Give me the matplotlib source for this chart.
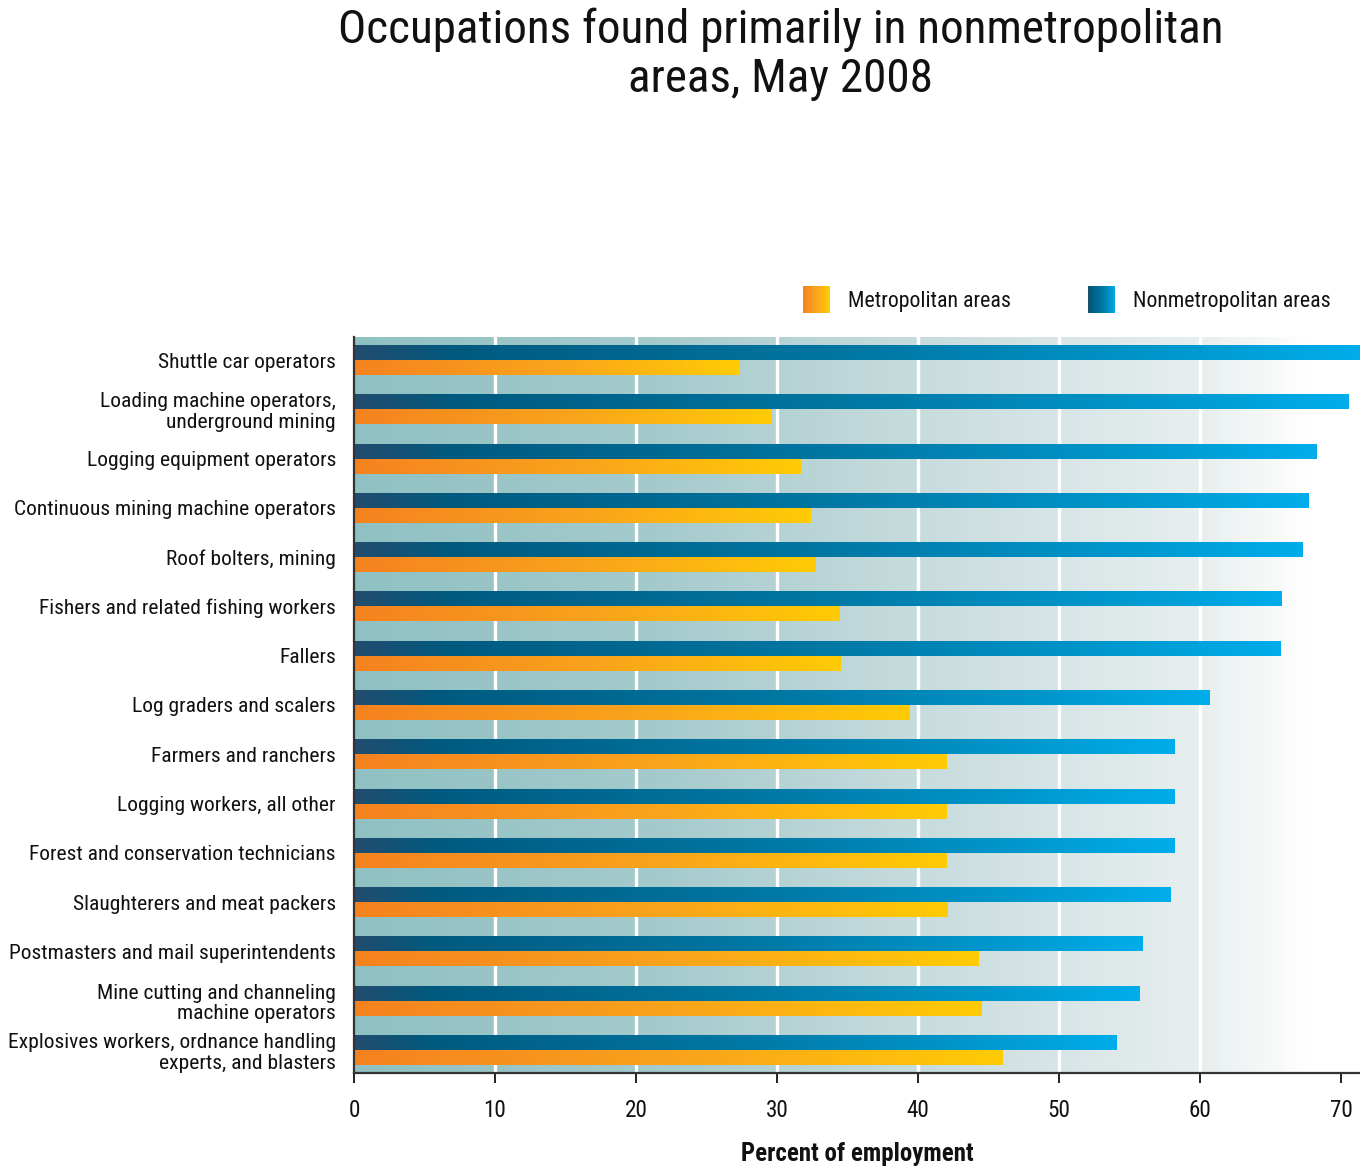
import os
import matplotlib
matplotlib.use("Agg")
import matplotlib.pyplot as plt
import numpy as np
from matplotlib.colors import LinearSegmentedColormap
from matplotlib.patches import Patch, Rectangle
from matplotlib.legend_handler import HandlerBase
from matplotlib import font_manager as fm
from matplotlib.font_manager import FontProperties

categories = [
    "Shuttle car operators",
    "Loading machine operators,\nunderground mining",
    "Logging equipment operators",
    "Continuous mining machine operators",
    "Roof bolters, mining",
    "Fishers and related fishing workers",
    "Fallers",
    "Log graders and scalers",
    "Farmers and ranchers",
    "Logging workers, all other",
    "Forest and conservation technicians",
    "Slaughterers and meat packers",
    "Postmasters and mail superintendents",
    "Mine cutting and channeling\nmachine operators",
    "Explosives workers, ordnance handling\nexperts, and blasters",
]
nonmetro = [71.3, 70.5, 68.3, 67.7, 67.3, 65.8, 65.7, 60.7, 58.2, 58.2, 58.2, 57.9, 55.9, 55.7, 54.1]
metro = [27.3, 29.6, 31.7, 32.4, 32.7, 34.4, 34.5, 39.4, 42.0, 42.0, 42.0, 42.1, 44.3, 44.5, 46.0]
xticks = [0, 10, 20, 30, 40, 50, 60, 70]
title = "Occupations found primarily in nonmetropolitan\nareas, May 2008"
xlabel = "Percent of employment"
legend_labels = ["Metropolitan areas", "Nonmetropolitan areas"]

TXT = "#111111"


def _wt(f):
    w = f.weight
    if isinstance(w, str):
        w = fm.weight_dict.get(w, 400)
    return w


def pick_font(bold):
    prefs = [("Liberation Sans Narrow", None), ("Roboto Condensed", None),
             ("Open Sans Condensed", None), ("DejaVu Sans", "Condensed"),
             ("Noto Sans", "Condensed"), ("Open Sans", "Condensed"),
             ("Roboto", "Condensed"), ("Liberation Sans", None), ("DejaVu Sans", None)]
    for name, key in prefs:
        for f in fm.fontManager.ttflist:
            base = os.path.basename(f.fname)
            if f.name != name:
                continue
            if key and key not in base:
                continue
            if any(k in base for k in ("Italic", "Oblique")) or f.style != "normal":
                continue
            if name in ("Liberation Sans", "DejaVu Sans") and key is None and \
                    ("Condensed" in base or "Narrow" in base):
                continue
            if (_wt(f) >= 600) == bold and "Light" not in base and "Black" not in base \
                    and "Semi" not in base and "Medium" not in base:
                return f.fname
    return None


reg_path = pick_font(False)
bold_path = pick_font(True) or reg_path
fp_reg = FontProperties(fname=reg_path) if reg_path else FontProperties(family="DejaVu Sans")
fp_bold = FontProperties(fname=bold_path) if bold_path else FontProperties(family="DejaVu Sans", weight="bold")

blue_cmap = LinearSegmentedColormap.from_list(
    "b", [(0, "#224c6e"), (0.1, "#015a7f"), (0.5, "#0077a4"), (0.8, "#0096cb"), (1.0, "#00adea")])
orange_cmap = LinearSegmentedColormap.from_list(
    "o", [(0, "#f5821f"), (0.5, "#f9a31c"), (1.0, "#ffcb05")])
bg_cmap = LinearSegmentedColormap.from_list(
    "bg", [(0, "#8fc1c3"), (0.3, "#a5cacc"), (0.55, "#c6dbdc"), (0.75, "#dde8e9"),
           (0.85, "#e9efef"), (0.95, "#ffffff"), (1.0, "#ffffff")])


class GradHandler(HandlerBase):
    def __init__(self, cmap):
        super().__init__()
        self.cmap = cmap

    def create_artists(self, legend, orig_handle, xdescent, ydescent, width, height,
                       fontsize, trans):
        k = 40
        arts = []
        for i in range(k):
            r = Rectangle((-xdescent + width * i / k, -ydescent), width / k * 1.08, height,
                          facecolor=self.cmap((i + 0.5) / k), edgecolor='none',
                          linewidth=0, transform=trans)
            arts.append(r)
        return arts


fig = plt.figure(figsize=(13.6, 11.7), dpi=100)
renderer = fig.canvas.get_renderer()


def width_px(text, fp, size):
    t = fig.text(0, 0, text, fontproperties=fp, fontsize=size)
    w = t.get_window_extent(renderer).width
    t.remove()
    return w


lab_size = min(18, 1.04 * 16.5 * 310 / width_px("Continuous mining machine operators", fp_reg, 16.5))
title_size = min(38, 1.08 * 33 * 821 / width_px("Occupations found primarily in nonmetropolitan", fp_reg, 33))
xl_size = min(19, 1.04 * 17 * 224 / width_px(xlabel, fp_bold, 17))
leg_size = min(18.5, 1.06 * 16.5 * 187 / width_px("Nonmetropolitan areas", fp_reg, 16.5))
tick_size = min(19, lab_size * 1.08)

ax = fig.add_axes([354/1360, 1 - 1073/1170, 1 - 354/1360, (1073 - 337)/1170])

n = len(categories)
y = np.arange(n)
h = 0.305
xmax = 71.35
ax.set_xlim(0, xmax)
ax.set_ylim(n - 1 + 0.47, -0.47)

grad = np.linspace(0, 1, 512).reshape(1, -1)
ax.imshow(grad, cmap=bg_cmap, aspect='auto', extent=[0, xmax, n - 1 + 0.47, -0.47],
          zorder=0, interpolation='bilinear')

for t in xticks[1:]:
    ax.axvline(t, color='white', lw=2.4, zorder=1)


def gradient_bars(bars, cmap):
    for b in bars:
        x0, y0 = b.get_x(), b.get_y()
        w, hh = b.get_width(), b.get_height()
        im = ax.imshow(grad, cmap=cmap, aspect='auto',
                       extent=[x0, x0 + w, y0 + hh, y0], zorder=3,
                       interpolation='bilinear')
        im.set_clip_path(b)
        b.set_facecolor('none')
        b.set_edgecolor('none')


bars_n = ax.barh(y - h / 2, nonmetro, height=h, zorder=2)
bars_m = ax.barh(y + h / 2, metro, height=h, zorder=2)
gradient_bars(bars_n, blue_cmap)
gradient_bars(bars_m, orange_cmap)
ax.set_xlim(0, xmax)
ax.set_ylim(n - 1 + 0.47, -0.47)

ax.set_yticks(y)
ax.set_yticklabels(categories, color=TXT, linespacing=1.12)
for lab in ax.get_yticklabels():
    lab.set_fontproperties(fp_reg)
    lab.set_fontsize(lab_size)
ax.tick_params(axis='y', length=0, pad=13)
ax.set_xticks(xticks)
ax.set_xticklabels([str(t) for t in xticks], color=TXT)
for lab in ax.get_xticklabels():
    lab.set_fontproperties(fp_reg)
    lab.set_fontsize(tick_size)
ax.tick_params(axis='x', direction='out', length=7, width=1.4, color='#222222', pad=12)

for s in ['top', 'right']:
    ax.spines[s].set_visible(False)
for s in ['left', 'bottom']:
    ax.spines[s].set_color('#333333')
    ax.spines[s].set_linewidth(1.6)
    ax.spines[s].set_zorder(5)

ax.set_xlabel(xlabel, fontproperties=fp_bold, fontsize=xl_size, color=TXT, labelpad=14)

fig.text(781/1360, 1 - 8/1170, title, ha='center', va='top', fontproperties=fp_reg,
         fontsize=title_size, color=TXT, linespacing=1.13)

leg_px = leg_size * 100 / 72
leg_prop = fp_reg.copy()
leg_prop.set_size(leg_size)
handles = [Patch(facecolor='#f9a31c'), Patch(facecolor='#0077a4')]
leg = fig.legend(handles, legend_labels, loc='upper right', ncol=2,
                 bbox_to_anchor=(1331/1360, 1 - 286/1170), frameon=False,
                 prop=leg_prop,
                 handler_map={handles[0]: GradHandler(orange_cmap),
                              handles[1]: GradHandler(blue_cmap)},
                 handlelength=27 / leg_px, handleheight=33 / leg_px,
                 handletextpad=18 / leg_px, columnspacing=78 / leg_px,
                 borderpad=0, borderaxespad=0)
for t in leg.get_texts():
    t.set_color(TXT)

fig.savefig("out.png", dpi=100)
